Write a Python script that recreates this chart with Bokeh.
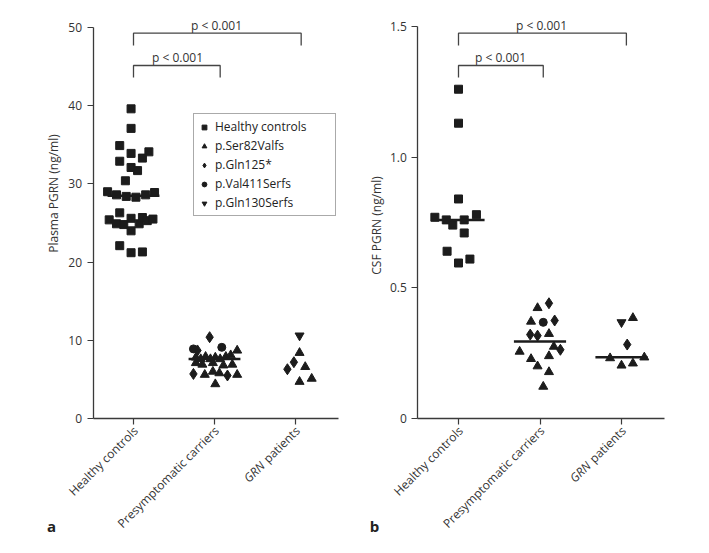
import math
from bokeh.plotting import figure
from bokeh.layouts import row
from bokeh.models import Label, Legend, LegendItem, FixedTicker, Range1d, LinearAxis
from bokeh.embed import file_html
from bokeh.resources import INLINE

# ---------------- data ----------------
categories = ["Healthy controls", "Presymptomatic carriers", "GRN patients"]

# Panel a: plasma PGRN (ng/ml)
plasma_hc = [39.6, 37.1, 34.9, 33.9, 34.1, 32.9, 33.3, 32.1, 31.7, 30.4,
             29.0, 28.6, 28.4, 28.3, 28.6, 28.9, 26.3,
             25.4, 24.9, 24.8, 25.6, 24.9, 25.7, 25.3, 25.5, 24.0, 22.1, 21.2, 21.3]
plasma_hc_dx = [-0.03, -0.03, -0.17, -0.03, 0.19, -0.17, 0.11, -0.03, 0.05, -0.10,
                -0.32, -0.21, -0.09, 0.03, 0.15, 0.26, -0.17,
                -0.30, -0.21, -0.12, -0.03, 0.07, 0.11, 0.17, 0.24, -0.03, -0.17, -0.03, 0.11]

plasma_ser82_cat = [2] * 19 + [3] * 4
plasma_ser82 = [8.7, 7.8, 7.6, 7.9, 7.6, 7.8, 7.6, 7.9, 8.1, 7.1, 6.9, 7.1, 6.8, 6.9,
                5.6, 6.0, 5.8, 5.6, 4.4,
                8.4, 6.6, 4.7, 5.1]
plasma_ser82_dx = [0.28, -0.23, -0.17, -0.11, -0.05, 0.01, 0.07, 0.14, 0.20, -0.23, -0.15, -0.02, 0.11, 0.22,
                   -0.12, -0.02, 0.06, 0.28, 0.01,
                   0.05, 0.12, 0.05, 0.20]

plasma_gln125_cat = [2, 2, 2, 2, 3, 3]
plasma_gln125 = [10.4, 8.7, 5.7, 5.5, 7.2, 6.3]
plasma_gln125_dx = [-0.06, -0.21, -0.26, 0.16, -0.02, -0.10]

plasma_val411_cat = [2, 2]
plasma_val411 = [8.9, 9.1]
plasma_val411_dx = [-0.26, 0.09]

plasma_gln130_cat = [3]
plasma_gln130 = [10.6]
plasma_gln130_dx = [0.05]

plasma_median_cat = [1, 2]
plasma_median = [28.5, 7.6]

# Panel b: CSF PGRN (ng/ml)
csf_hc = [1.26, 1.13, 0.84, 0.77, 0.76, 0.74, 0.76, 0.78, 0.71, 0.64, 0.595, 0.61]
csf_hc_dx = [0.0, 0.0, 0.0, -0.29, -0.15, -0.07, 0.07, 0.22, 0.07, -0.14, 0.0, 0.14]

csf_ser82_cat = [2] * 10 + [3] * 5
csf_ser82 = [0.423, 0.371, 0.324, 0.275, 0.256, 0.228, 0.239, 0.200, 0.178, 0.122,
             0.385, 0.231, 0.203, 0.211, 0.234]
csf_ser82_dx = [-0.03, -0.11, 0.11, 0.17, -0.25, -0.11, 0.11, -0.03, 0.11, 0.04,
                0.14, -0.14, 0.0, 0.14, 0.28]

csf_gln125_cat = [2, 2, 2, 2, 2, 3]
csf_gln125 = [0.441, 0.375, 0.321, 0.317, 0.263, 0.283]
csf_gln125_dx = [0.11, 0.18, -0.12, -0.03, 0.25, 0.07]

csf_val411_cat = [2]
csf_val411 = [0.368]
csf_val411_dx = [0.04]

csf_gln130_cat = [3]
csf_gln130 = [0.368]
csf_gln130_dx = [0.0]

csf_median_cat = [1, 2, 3]
csf_median = [0.76, 0.295, 0.234]

legend_labels = ["Healthy controls", "p.Ser82Valfs", "p.Gln125*", "p.Val411Serfs", "p.Gln130Serfs"]
p_text = "p < 0.001"

# ---------------- styling ----------------
FONT = "Open Sans"
INK = "#1c1c1c"
TXT = "#333333"
AXC = "#3a3a3a"
H = 537
Y0 = 418  # pixel row of value 0


def xs(cats, dx):
    return [c + d for c, d in zip(cats, dx)]


class Panel:
    def __init__(self, left_px, width, cat1_px, px_per_cat, px_per_unit, yticks, ymax):
        self.left_px = left_px
        self.c1 = cat1_px
        self.pc = px_per_cat
        self.pu = px_per_unit
        self.p = figure(width=width, height=H, output_backend="svg", toolbar_location=None,
                        x_range=Range1d(self.X(left_px), self.X(left_px + width)),
                        y_range=Range1d(self.Y(H), self.Y(0)),
                        x_axis_location=None, y_axis_location=None,
                        min_border=0, min_border_left=0, min_border_right=0,
                        min_border_top=0, min_border_bottom=0)
        p = self.p
        p.outline_line_color = None
        p.grid.visible = False
        p.background_fill_color = "white"
        p.border_fill_color = "white"
        xa = LinearAxis(fixed_location=0, ticker=FixedTicker(ticks=[1, 2, 3]),
                        major_label_overrides={1: "", 2: "", 3: ""},
                        bounds=(0.5, self.X(cat1_px + 2.53 * px_per_cat)))
        ya = LinearAxis(fixed_location=0.5, ticker=FixedTicker(ticks=yticks), bounds=(0, ymax))
        for ax in (xa, ya):
            ax.axis_line_color = AXC
            ax.axis_line_width = 1.3
            ax.major_tick_line_color = AXC
            ax.major_tick_line_width = 1.2
            ax.major_tick_out = 6
            ax.major_tick_in = 0
            ax.minor_tick_line_color = None
            ax.major_label_text_font = FONT
            ax.major_label_text_font_size = "12px"
            ax.major_label_text_color = TXT
            ax.major_label_standoff = 5
        p.add_layout(xa, "below")
        p.add_layout(ya, "left")
        self.ya = ya

    def X(self, px):
        return 1 + (px - self.c1) / self.pc

    def Y(self, py):
        return (Y0 - py) / self.pu

    def label(self, px, py, text, **kw):
        opts = dict(text_align="center", text_baseline="middle", text_font=FONT,
                    text_font_size="12px", text_color=TXT)
        opts.update(kw)
        self.p.add_layout(Label(x=self.X(px), y=self.Y(py), text=text, **opts))

    def points(self, hc, hc_dx, s82c, s82, s82dx, g125c, g125, g125dx, v411c, v411, v411dx,
               g130c, g130, g130dx, medc, med):
        p = self.p
        r_sq = p.scatter(xs([1] * len(hc), hc_dx), hc, marker="square", size=8,
                         fill_color=INK, line_color=INK)
        r_tri = p.scatter(xs(s82c, s82dx), s82, marker="triangle", size=9,
                          fill_color=INK, line_color=INK)
        r_dia = p.scatter(xs(g125c, g125dx), g125, marker="diamond", size=11,
                          fill_color=INK, line_color=INK)
        r_cir = p.scatter(xs(v411c, v411dx), v411, marker="circle", size=8,
                          fill_color=INK, line_color=INK)
        r_inv = p.scatter(xs(g130c, g130dx), g130, marker="inverted_triangle", size=9,
                          fill_color=INK, line_color=INK)
        p.segment(x0=[c - 0.32 for c in medc], x1=[c + 0.32 for c in medc], y0=med, y1=med,
                  line_color=INK, line_width=2.5)
        return [r_sq, r_tri, r_dia, r_cir, r_inv]

    def bracket(self, x1_cat, top_py, leg_py, text_px, text_py):
        x0 = 1
        x1 = x1_cat
        y_top = self.Y(top_py)
        y_leg = self.Y(leg_py)
        self.p.line([x0, x0, x1, x1], [y_leg, y_top, y_top, y_leg], line_color="#444444",
                    line_width=1.3)
        self.label(text_px, text_py, p_text)

    def cat_labels(self):
        ang = math.pi / 4
        base_py = 428
        for i, name in enumerate(categories[:2]):
            px = self.c1 + i * self.pc + 2
            self.label(px, base_py, name, angle=ang, text_align="right")
        px = self.c1 + 2 * self.pc + 2
        self.label(px, base_py, "patients", angle=ang, text_align="right")
        shift = 49.5 * math.cos(ang)
        self.label(px - shift, base_py + shift, "GRN", angle=ang, text_align="right",
                   text_font_style="italic")


# ---------------- panel a ----------------
A = Panel(0, 360, 133, 81.0, (418 - 27) / 50.0, [0, 10, 20, 30, 40, 50], 50)
rends = A.points(plasma_hc, plasma_hc_dx, plasma_ser82_cat, plasma_ser82, plasma_ser82_dx,
                 plasma_gln125_cat, plasma_gln125, plasma_gln125_dx,
                 plasma_val411_cat, plasma_val411, plasma_val411_dx,
                 plasma_gln130_cat, plasma_gln130, plasma_gln130_dx,
                 plasma_median_cat, plasma_median)
A.bracket(3.07, 32.7, 45, 216, 25)
A.bracket(2.07, 65, 77, 177, 57)
A.cat_labels()
A.label(53, 193, "Plasma PGRN (ng/ml)", angle=math.pi / 2)
A.label(51, 525, "a", text_font_size="15px", text_font_style="bold", text_color="#222222")

legend = Legend(items=[LegendItem(label=lab, renderers=[r]) for lab, r in zip(legend_labels, rends)],
                location=(193, H - 216))
legend.label_text_font = FONT
legend.label_text_font_size = "12px"
legend.label_text_color = "#222222"
legend.border_line_color = "#555555"
legend.border_line_width = 1
legend.background_fill_color = "white"
legend.background_fill_alpha = 1
legend.glyph_width = 12
legend.glyph_height = 12
legend.label_height = 15
legend.label_width = 116
legend.label_standoff = 5
legend.spacing = 2
legend.padding = 4
legend.margin = 0
A.p.add_layout(legend, "center")

# ---------------- panel b ----------------
B = Panel(360, 333, 458, 81.5, (418 - 26) / 1.5, [0, 0.5, 1.0, 1.5], 1.5)
B.ya.major_label_overrides = {0: "0", 0.5: "0.5", 1: "1.0", 1.5: "1.5"}
B.points(csf_hc, csf_hc_dx, csf_ser82_cat, csf_ser82, csf_ser82_dx,
         csf_gln125_cat, csf_gln125, csf_gln125_dx,
         csf_val411_cat, csf_val411, csf_val411_dx,
         csf_gln130_cat, csf_gln130, csf_gln130_dx,
         csf_median_cat, csf_median)
B.bracket(3.06, 32.7, 45, 541, 25)
B.bracket(2.04, 65, 77, 500, 57)
B.cat_labels()
B.label(376, 225, "CSF PGRN (ng/ml)", angle=math.pi / 2)
B.label(374, 525, "b", text_font_size="15px", text_font_style="bold", text_color="#222222")

layout = row(A.p, B.p)
open("out.html", "w").write(file_html(layout, INLINE))
